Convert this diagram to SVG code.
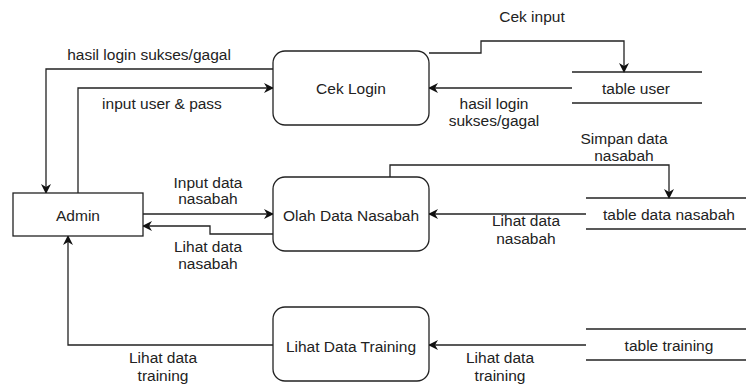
<svg xmlns="http://www.w3.org/2000/svg" width="748" height="386" viewBox="0 0 748 386">
<defs>
<marker id="arr" viewBox="0 0 10 10" refX="9" refY="5" markerWidth="10" markerHeight="10" markerUnits="userSpaceOnUse" orient="auto">
<path d="M0,0 L10,5 L0,10 L3,5 Z" fill="#111"/>
</marker>
</defs>
<style>
text{font-family:"Liberation Sans",Arial,sans-serif;font-size:15.5px;fill:#222;text-anchor:middle;dominant-baseline:central}
.box{fill:#fff;stroke:#222;stroke-width:1.3}
.line{fill:none;stroke:#222;stroke-width:1.3}
.conn{fill:none;stroke:#222;stroke-width:1.3;marker-end:url(#arr)}
</style>
<rect width="748" height="386" fill="#fff"/>
<g id="connectors">
<polyline class="conn" points="273,69 46,69 46,193"/>
<polyline class="conn" points="78,193 78,88 273,88"/>
<polyline class="conn" points="429,53 481,53 481,41 624,41 624,72"/>
<polyline class="conn" points="572,88 429,88"/>
<polyline class="conn" points="390,177 390,165 669,165 669,198"/>
<polyline class="conn" points="586,214 429,214"/>
<polyline class="conn" points="143,214 273,214"/>
<polyline class="conn" points="273,234 210,234 210,226 143,226"/>
<polyline class="conn" points="273,345 68,345 68,236"/>
<polyline class="conn" points="586,345 429,345"/>
<text x="149" y="54">hasil login sukses/gagal</text>
<text x="162" y="103">input user &amp; pass</text>
<text x="532" y="16">Cek input</text>
<text x="494" y="103">hasil login</text>
<text x="494" y="120">sukses/gagal</text>
<text x="624" y="138">Simpan data</text>
<text x="624" y="155">nasabah</text>
<text x="208" y="182">Input data</text>
<text x="208" y="198">nasabah</text>
<text x="208" y="246">Lihat data</text>
<text x="208" y="263">nasabah</text>
<text x="526" y="220">Lihat data</text>
<text x="526" y="238">nasabah</text>
<text x="163" y="357">Lihat data</text>
<text x="163" y="375">training</text>
<text x="500" y="357">Lihat data</text>
<text x="500" y="375">training</text>
</g>
<g id="admin">
<rect class="box" x="13" y="193" width="130" height="43"/>
<text x="78" y="215">Admin</text>
</g>
<g id="cek-login">
<rect class="box" x="273" y="51" width="156" height="74" rx="12" ry="12"/>
<text x="351" y="88">Cek Login</text>
</g>
<g id="olah-data-nasabah">
<rect class="box" x="273" y="177" width="156" height="74" rx="12" ry="12"/>
<text x="351" y="215">Olah Data Nasabah</text>
</g>
<g id="lihat-data-training">
<rect class="box" x="273" y="307" width="156" height="74" rx="12" ry="12"/>
<text x="351" y="346">Lihat Data Training</text>
</g>
<g id="table-user">
<line class="line" x1="572" y1="72" x2="702" y2="72"/>
<line class="line" x1="572" y1="103" x2="702" y2="103"/>
<text x="636" y="88">table user</text>
</g>
<g id="table-data-nasabah">
<line class="line" x1="586" y1="198" x2="746" y2="198"/>
<line class="line" x1="586" y1="229" x2="746" y2="229"/>
<text x="669" y="214">table data nasabah</text>
</g>
<g id="table-training">
<line class="line" x1="586" y1="329" x2="746" y2="329"/>
<line class="line" x1="586" y1="360" x2="746" y2="360"/>
<text x="669" y="345">table training</text>
</g>
</svg>
